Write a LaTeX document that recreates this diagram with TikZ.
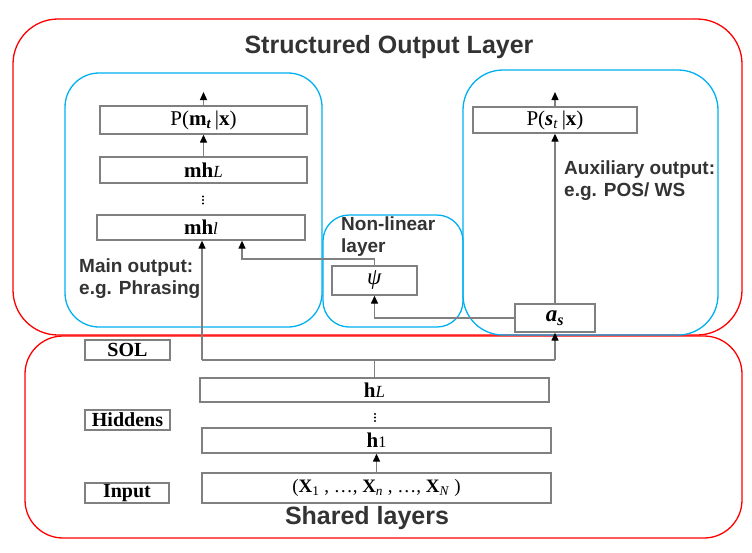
\documentclass[tikz,border=0pt]{standalone}
\usepackage{fontspec}
\setmainfont{Liberation Serif}
\setsansfont{Liberation Sans}
\usetikzlibrary{arrows.meta}
\definecolor{redl}{RGB}{255,0,0}
\definecolor{bluel}{RGB}{0,176,240}
\definecolor{linegray}{RGB}{128,128,128}
\definecolor{txtgray}{RGB}{51,51,51}
\begin{document}
\begin{tikzpicture}[x={(1pt,0pt)},y={(0pt,-1pt)},
  lbox/.style={draw=linegray,line width=1.3pt,fill=white,inner sep=0pt,font=\fontsize{21}{23}\selectfont},
  tagbox/.style={lbox,font=\fontsize{20}{22}\selectfont},
  conn/.style={draw=linegray,line width=1.3pt},
  arr/.style={conn,-{Triangle[length=8pt,width=7pt,color=black]}},
  lab/.style={font=\sffamily\bfseries\fontsize{19}{22}\selectfont,text=txtgray,align=left,inner sep=0pt},
  big/.style={font=\sffamily\bfseries\fontsize{25}{28}\selectfont,text=txtgray,inner sep=0pt},
  redframe/.style={draw=redl,line width=1.3pt},
  blueframe/.style={draw=bluel,line width=1.3pt},
  dotfill/.style={fill=black}
]
\useasboundingbox (0,0) rectangle (752,552);
% frames
\draw[redframe,rounded corners=45pt] (13,19) rectangle (742,335);
\draw[redframe,rounded corners=38pt] (25,336) rectangle (742,538);
\draw[blueframe,rounded corners=34pt] (65,73) rectangle (322,327);
\draw[blueframe,rounded corners=26pt] (323,215) rectangle (463,327);
\draw[blueframe,rounded corners=40pt] (463,70) rectangle (718,335);

% titles
\node[big] (title) at (389,47) {Structured Output Layer};
\node[big] (shared) at (367,518) {Shared layers};

% labels
\node[lab,anchor=west] (mainlab) at (79,278.5) {Main output:\\e.g. Phrasing};
\node[lab,anchor=west] (nllab) at (341,237) {Non-linear\\layer};
\node[lab,anchor=west] (auxlab) at (564,181) {Auxiliary output:\\e.g. POS/ WS};

% left column
\node[lbox,minimum width=207pt,minimum height=28pt] (pm) at (203.5,120) {P(\textbf{m}\textsubscript{\textbf{\textit{t}}}\,|\textbf{x})};
\node[lbox,minimum width=207pt,minimum height=26pt] (mhL) at (203.5,170) {\textbf{mh}{\fontsize{17}{19}\selectfont\textit{L}}};
\foreach \dy in {-3.5,0,3.5} \fill[dotfill] (203,200+\dy) circle (1.1pt);
\node[lbox,minimum width=208pt,minimum height=25pt] (mhl) at (201,227.5) {\textbf{mh}{\fontsize{17}{19}\selectfont\textit{l}}};

% right column
\node[lbox,minimum width=164pt,minimum height=26pt] (ps) at (555,120) {P(\textbf{\textit{s}}\textsubscript{\textit{t}}\,|\textbf{x})};
\node[lbox,minimum width=80pt,minimum height=28pt,font=\fontsize{23}{25}\selectfont] (as) at (555,318) {\textbf{\textit{a}}\textsubscript{\textbf{\textit{s}}}};

% middle
\node[lbox,minimum width=85pt,minimum height=29pt,font=\fontsize{23}{25}\selectfont] (psi) at (374.5,280.5) {\textit{ψ}};

% shared
\node[tagbox,minimum width=85pt,minimum height=20pt] (sol) at (127.5,350) {\textbf{SOL}};
\node[tagbox,minimum width=85pt,minimum height=20pt] (hid) at (127.5,420) {\textbf{Hiddens}};
\node[tagbox,minimum width=84pt,minimum height=20pt] (inp) at (127,493) {\textbf{Input}};
\node[lbox,minimum width=349pt,minimum height=24pt] (hL) at (374.5,390) {\textbf{h}{\fontsize{17}{19}\selectfont\textit{L}}};
\foreach \dy in {-3.5,0,3.5} \fill[dotfill] (375,417.5+\dy) circle (1.1pt);
\node[lbox,minimum width=349pt,minimum height=25pt] (h1) at (376.5,440.5) {\textbf{h}{\fontsize{16}{18}\selectfont 1}};
\node[lbox,minimum width=349pt,minimum height=30pt,font=\fontsize{19}{21}\selectfont] (xin) at (376.5,488) {(\textbf{X}\textsubscript{1}~, \dots, \textbf{X}\textsubscript{\textit{n}}~, \dots, \textbf{X}\textsubscript{\textit{N}}~)};

% coordinates
\coordinate (pmtop) at (203.5,92);
\coordinate (pstop) at (555,92);
\coordinate (jm) at (374.5,360);
\coordinate (jl) at (202,360);
\coordinate (jr) at (555,360);
\coordinate (k) at (242,259);

% connectors
\draw[arr] (pm.north) -- (pmtop);
\draw[arr] (mhL.north) -- (pm.south);
\draw[arr] (ps.north) -- (pstop);
\draw[arr] (as.north) -- (ps.south);
\draw[arr] (xin.north) -- (h1.south);
\draw[conn] (hL.north) -- (jm);
\draw[conn] (jl) -- (jr);
\draw[arr] (jl) -- (jl |- mhl.south);
\draw[arr] (jr) -- (as.south);
\draw[arr] (as.west) -| (psi.south);
\draw[arr] (psi.north) |- (k) -- (k |- mhl.south);
\end{tikzpicture}
\end{document}
